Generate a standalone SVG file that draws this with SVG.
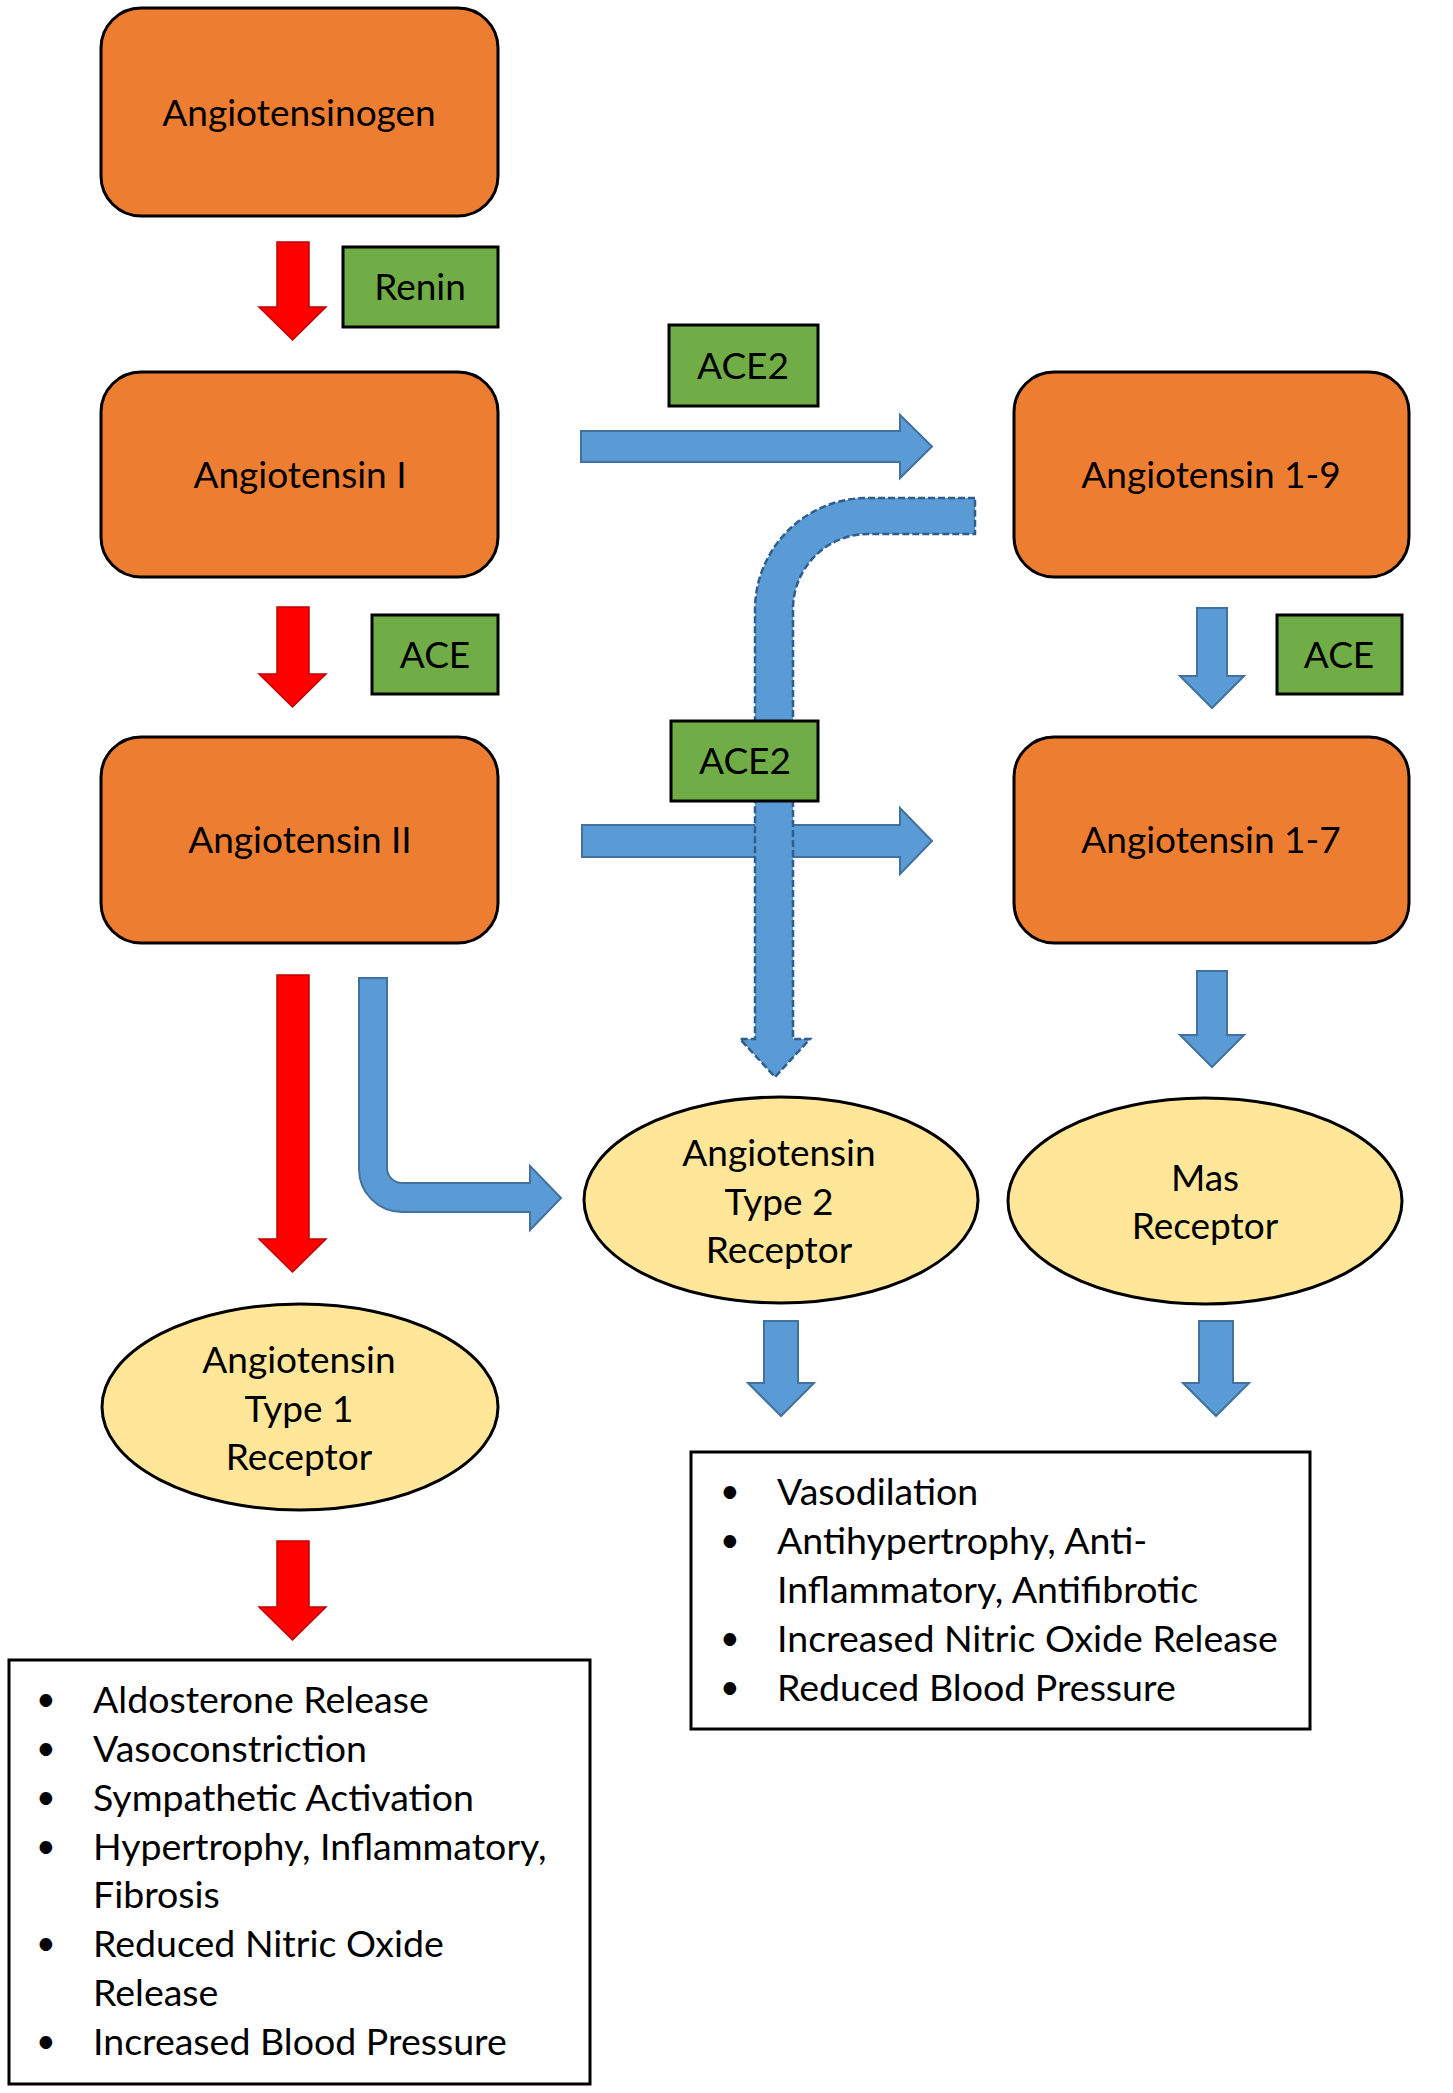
<svg xmlns="http://www.w3.org/2000/svg" width="1453" height="2093" viewBox="0 0 1453 2093">
<style>
.box{fill:#ED7D31;stroke:#000;stroke-width:3}
.enz{fill:#70AD47;stroke:#000;stroke-width:3}
.rec{fill:#FFE699;stroke:#000;stroke-width:3}
.res{fill:#fff;stroke:#000;stroke-width:3}
.red{fill:#FF0000;stroke:#C00000;stroke-width:1.5}
.blue{fill:#5B9BD5;stroke:#41719C;stroke-width:2}
.dash{fill:#5B9BD5;stroke:#2E5E8E;stroke-width:2.5;stroke-dasharray:7 3}
text{font-family:Lato,"Open Sans","DejaVu Sans",sans-serif;font-size:37px;fill:#000}
.c{text-anchor:middle}
.li{font-size:37.5px}
.b{font-size:34px}
</style>
<rect width="1453" height="2093" fill="#fff"/>
<g id="connectors">
<path class="red" d="M277 242H309V307H326L292.5 340L259 307H277Z"/>
<path class="red" d="M277 607H309V674H326L292.5 707L259 674H277Z"/>
<path class="red" d="M277 975H309V1239H326L292.5 1272L259 1239H277Z"/>
<path class="red" d="M277 1541H309V1607H326L292.5 1640L259 1607H277Z"/>
<path class="blue" d="M581 431H900V415L932 446.5L900 478V462H581Z"/>
<path class="blue" d="M582 825H900V808L932 841L900 874V857H582Z"/>
<path class="blue" d="M1197 608H1227V676H1244L1212 708L1180 676H1197Z"/>
<path class="blue" d="M1197 971H1227V1035H1244L1212 1067L1180 1035H1197Z"/>
<path class="blue" d="M764 1321H798V1383H814L781 1416L748 1383H764Z"/>
<path class="blue" d="M1199 1321H1233V1383H1249L1216 1416L1183 1383H1199Z"/>
<path class="blue" d="M359 978H387V1168A15 15 0 0 0 402 1183H530V1166L561 1198L530 1230V1212H402A43 43 0 0 1 359 1169Z"/>
<path class="dash" d="M975 498H867A112 112 0 0 0 755 610V1039H740L775 1077L810 1039H793V609A75 75 0 0 1 868 534H975Z"/>
</g>
<g id="angiotensinogen"><rect class="box" x="101" y="8" width="397" height="208" rx="40"/><text class="c" x="299" y="126">Angiotensinogen</text></g>
<g id="renin"><rect class="enz" x="343" y="247" width="155" height="80"/><text class="c" x="420" y="300">Renin</text></g>
<g id="angiotensin-i"><rect class="box" x="101" y="372" width="397" height="205" rx="40"/><text class="c" x="300" y="488">Angiotensin I</text></g>
<g id="ace-left"><rect class="enz" x="372" y="615" width="126" height="79"/><text class="c" x="435" y="668">ACE</text></g>
<g id="ace2-top"><rect class="enz" x="669" y="325" width="149" height="81"/><text class="c" x="743" y="379">ACE2</text></g>
<g id="angiotensin-1-9"><rect class="box" x="1014" y="372" width="395" height="205" rx="40"/><text class="c" x="1211" y="488">Angiotensin 1-9</text></g>
<g id="ace-right"><rect class="enz" x="1277" y="615" width="125" height="79"/><text class="c" x="1339" y="668">ACE</text></g>
<g id="ace2-lower"><rect class="enz" x="671" y="721" width="147" height="80"/><text class="c" x="745" y="774">ACE2</text></g>
<g id="angiotensin-ii"><rect class="box" x="101" y="737" width="397" height="206" rx="40"/><text class="c" x="300" y="853">Angiotensin II</text></g>
<g id="angiotensin-1-7"><rect class="box" x="1014" y="737" width="395" height="206" rx="40"/><text class="c" x="1211" y="853">Angiotensin 1-7</text></g>
<g id="at2-receptor"><ellipse class="rec" cx="781" cy="1200" rx="197" ry="103"/><text class="c" x="779" y="1166">Angiotensin</text><text class="c" x="779" y="1215">Type 2</text><text class="c" x="779" y="1263">Receptor</text></g>
<g id="mas-receptor"><ellipse class="rec" cx="1205" cy="1201" rx="197" ry="103"/><text class="c" x="1205" y="1191">Mas</text><text class="c" x="1205" y="1239">Receptor</text></g>
<g id="at1-receptor"><ellipse class="rec" cx="300" cy="1407" rx="198" ry="103"/><text class="c" x="299" y="1373">Angiotensin</text><text class="c" x="299" y="1422">Type 1</text><text class="c" x="299" y="1470">Receptor</text></g>
<g id="at1-effects"><rect class="res" x="9" y="1660" width="581" height="424"/>
<text class="b" x="36" y="1711">•</text><text class="li" x="93" y="1713">Aldosterone Release</text>
<text class="b" x="36" y="1760">•</text><text class="li" x="93" y="1762">Vasoconstriction</text>
<text class="b" x="36" y="1809">•</text><text class="li" x="93" y="1811">Sympathetic Activation</text>
<text class="b" x="36" y="1858">•</text><text class="li" x="93" y="1860">Hypertrophy, Inflammatory,</text>
<text class="li" x="93" y="1908">Fibrosis</text>
<text class="b" x="36" y="1955">•</text><text class="li" x="93" y="1957">Reduced Nitric Oxide</text>
<text class="li" x="93" y="2006">Release</text>
<text class="b" x="36" y="2053">•</text><text class="li" x="93" y="2055">Increased Blood Pressure</text>
</g>
<g id="protective-effects"><rect class="res" x="691" y="1452" width="619" height="277"/>
<text class="b" x="720" y="1503">•</text><text class="li" x="777" y="1505">Vasodilation</text>
<text class="b" x="720" y="1552">•</text><text class="li" x="777" y="1554">Antihypertrophy, Anti-</text>
<text class="li" x="777" y="1603">Inflammatory, Antifibrotic</text>
<text class="b" x="720" y="1650">•</text><text class="li" x="777" y="1652">Increased Nitric Oxide Release</text>
<text class="b" x="720" y="1699">•</text><text class="li" x="777" y="1701">Reduced Blood Pressure</text>
</g>
</svg>
